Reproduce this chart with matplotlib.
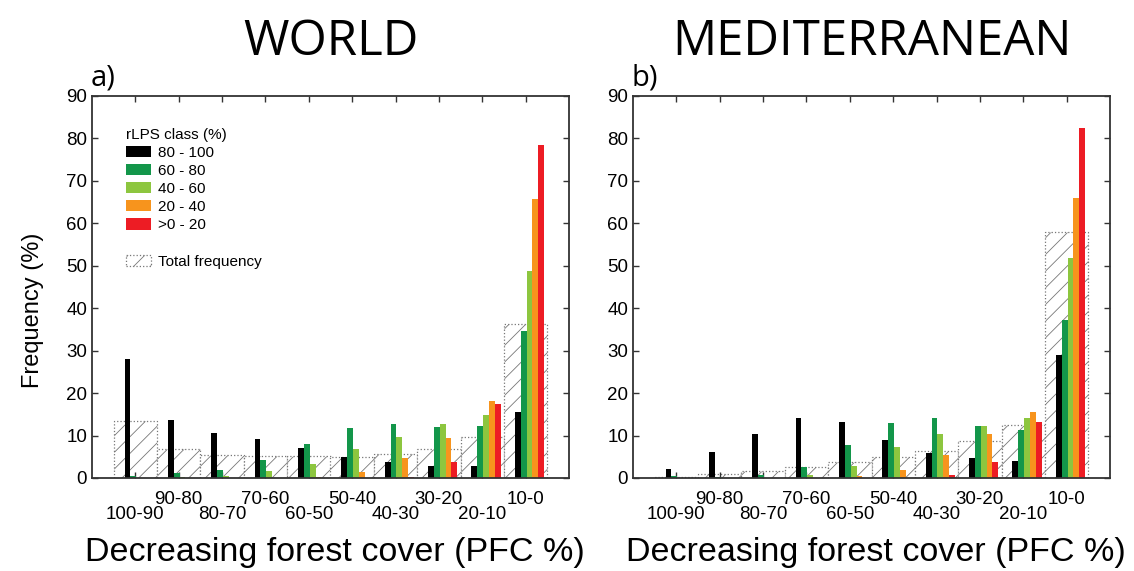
import matplotlib
matplotlib.use("Agg")
import matplotlib.pyplot as plt
from matplotlib.patches import Patch
from matplotlib import font_manager
import numpy as np

categories = ["100-90", "90-80", "80-70", "70-60", "60-50",
              "50-40", "40-30", "30-20", "20-10", "10-0"]
class_labels = ["80 - 100", "60 - 80", "40 - 60", "20 - 40", ">0 - 20"]
class_colors = ["#000000", "#13964A", "#8DC63F", "#F7941D", "#ED1C24"]

# WORLD
world_total = [13.5, 6.8, 5.5, 5.3, 5.1, 5.0, 5.7, 6.8, 9.7, 36.3]
world_80_100 = [28.0, 13.7, 10.6, 9.3, 7.1, 5.0, 3.7, 2.9, 2.75, 15.6]
world_60_80 = [0.5, 1.2, 1.8, 4.2, 7.9, 11.8, 12.8, 11.9, 12.3, 34.6]
world_40_60 = [0.0, 0.3, 0.55, 1.7, 3.3, 6.8, 9.7, 12.8, 14.9, 48.7]
world_20_40 = [0.0, 0.0, 0.0, 0.0, 0.15, 1.3, 4.6, 9.4, 18.1, 65.8]
world_0_20 = [0.0, 0.0, 0.0, 0.0, 0.0, 0.0, 0.2, 3.7, 17.4, 78.4]

# MEDITERRANEAN
med_total = [0.3, 0.9, 1.7, 2.7, 3.7, 5.0, 6.4, 8.6, 12.4, 57.9]
med_80_100 = [2.2, 6.1, 10.4, 14.1, 13.1, 9.0, 5.9, 4.6, 4.1, 29.0]
med_60_80 = [0.5, 0.2, 0.6, 2.6, 7.7, 13.0, 14.2, 12.3, 11.4, 37.2]
med_40_60 = [0.0, 0.0, 0.0, 0.7, 2.9, 7.2, 10.3, 12.3, 14.1, 51.8]
med_20_40 = [0.0, 0.0, 0.0, 0.0, 0.5, 2.0, 5.5, 10.4, 15.6, 66.0]
med_0_20 = [0.0, 0.0, 0.0, 0.0, 0.0, 0.0, 0.8, 3.7, 13.1, 82.4]

panels = [
    ("WORLD", "a)", world_total,
     [world_80_100, world_60_80, world_40_60, world_20_40, world_0_20]),
    ("MEDITERRANEAN", "b)", med_total,
     [med_80_100, med_60_80, med_40_60, med_20_40, med_0_20]),
]

plt.rcParams['font.family'] = ['Liberation Sans', 'DejaVu Sans']
plt.rcParams['hatch.color'] = '#555555'
plt.rcParams['hatch.linewidth'] = 0.6

installed = {f.name for f in font_manager.fontManager.ttflist}
if 'Liberation Sans Narrow' in installed:
    ylab_family, ylab_size = 'Liberation Sans Narrow', 20.5
else:
    ylab_family, ylab_size = 'Liberation Sans', 17

W, H = 1134, 571
fig = plt.figure(figsize=(W / 100, H / 100), dpi=100)

ax_boxes = [(92, 96, 569, 478), (633, 96, 1110, 478)]
x = np.arange(1, len(categories) + 1)
bw = 0.135
spine_col = '#333333'

for (title, letter, total, series), (x0, y0, x1, y1) in zip(panels, ax_boxes):
    ax = fig.add_axes([x0 / W, 1 - y1 / H, (x1 - x0) / W, (y1 - y0) / H])
    ax.bar(x, total, width=1.0, facecolor='white', edgecolor='#777777',
           linestyle=':', linewidth=0.9, hatch='//', zorder=1)
    for i, (vals, col) in enumerate(zip(series, class_colors)):
        ax.bar(x - 0.25 + bw / 2 + i * bw, vals, width=bw, color=col,
               linewidth=0, zorder=2)
    ax.set_xlim(0, 11)
    ax.set_ylim(0, 90)
    ax.set_yticks(np.arange(0, 91, 10))
    ax.set_xticks(x[1::2])
    ax.set_xticklabels(categories[1::2])
    ax.set_xticks(x[0::2], minor=True)
    ax.set_xticklabels(categories[0::2], minor=True)
    ax.tick_params(axis='both', which='both', direction='in', length=4,
                   width=1.0, color=spine_col, top=True, right=True,
                   labelsize=13.5)
    ax.tick_params(axis='x', which='major', pad=9.5)
    ax.tick_params(axis='x', which='minor', pad=20)
    for s in ax.spines.values():
        s.set_color(spine_col)
        s.set_linewidth(1.3)
    ax.set_xlabel("Decreasing forest cover (PFC %)", fontsize=24.5)
    ax.xaxis.set_label_coords(0.51, -0.155)
    fig.text((x0 + x1) / 2 / W, 1 - 55 / H, title, ha='center',
             va='baseline', fontsize=35.5, family='Open Sans')
    fig.text((x0 - 1) / W, 1 - 85 / H, letter, ha='left', va='baseline',
             fontsize=21, family='Open Sans')
    if title == "WORLD":
        ax.set_ylabel("Frequency (%)", fontsize=ylab_size, family=ylab_family)
        ax.yaxis.set_label_coords(-0.1, 0.44)
        handles = [Patch(facecolor=c, edgecolor='none') for c in class_colors]
        handles.append(Patch(facecolor='none', edgecolor='none'))
        handles.append(Patch(facecolor='white', edgecolor='#777777',
                             linestyle=':', hatch='//', linewidth=0.9))
        labels = class_labels + ["", "Total frequency"]
        leg = ax.legend(handles, labels, title="rLPS class (%)",
                        loc='upper left', bbox_to_anchor=(0.0555, 0.937),
                        frameon=False, fontsize=11, title_fontsize=11,
                        handlelength=1.65, handleheight=0.75,
                        handletextpad=0.45, labelspacing=0.27,
                        borderpad=0.0, alignment='left')

fig.savefig("out.png", dpi=100)
